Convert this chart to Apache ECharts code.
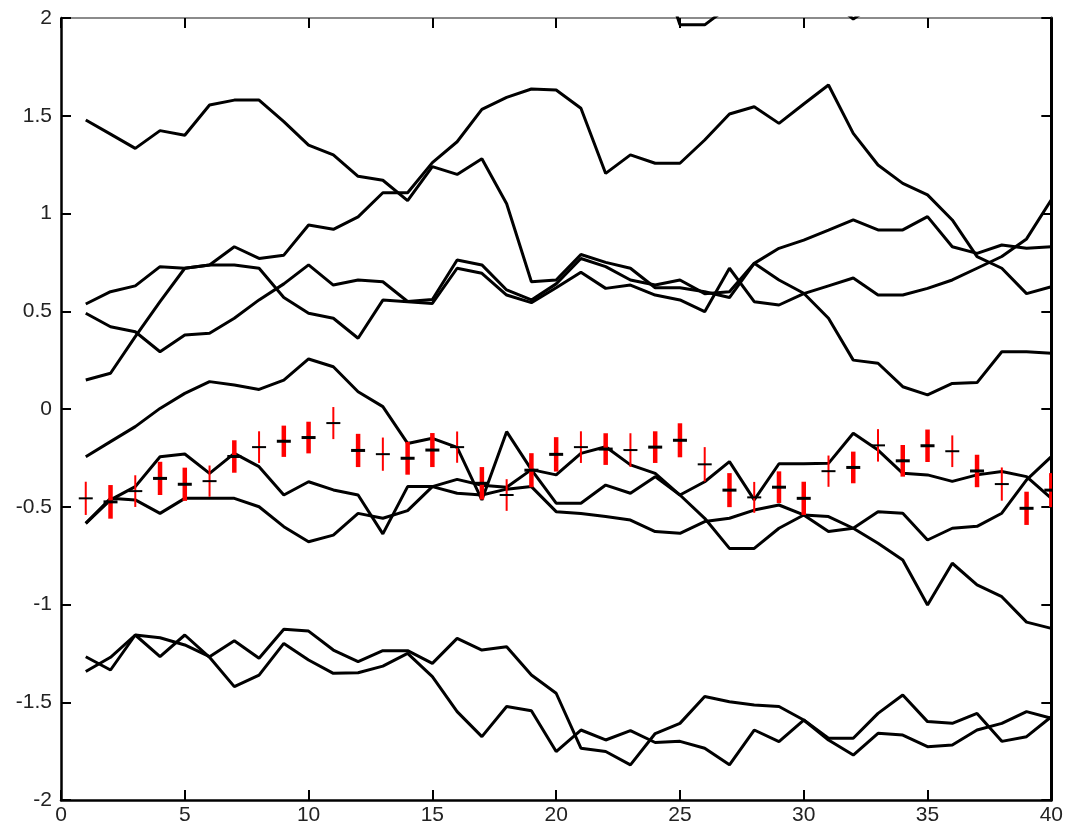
<!DOCTYPE html>
<html>
<head>
<meta charset="utf-8">
<script src="https://cdn.jsdelivr.net/npm/echarts@6/dist/echarts.min.js"></script>
<style>
  html, body { margin: 0; padding: 0; background: #fff; }
  #chart { width: 1066px; height: 832px; }
</style>
</head>
<body>
<div id="chart"></div>
<script>
// ---- data ----
const xs = [1,2,3,4,5,6,7,8,9,10,11,12,13,14,15,16,17,18,19,20,
            21,22,23,24,25,26,27,28,29,30,31,32,33,34,35,36,37,38,39,40];

const xTickLabels = ['0','5','10','15','20','25','30','35','40'];
const yTickLabels = ['-2','-1.5','-1','-0.5','0','0.5','1','1.5','2'];

const lineA = [1.478,1.406,1.333,1.424,1.40,1.555,1.58,1.58,1.47,1.35,
               1.30,1.19,1.17,1.066,1.24,1.20,1.28,1.05,0.651,0.66,
               0.79,0.75,0.72,0.62,0.62,0.60,0.57,0.745,0.822,0.864,
               0.915,0.967,0.916,0.916,0.984,0.83,0.796,0.839,0.822,0.83];
const lineB = [0.537,0.60,0.63,0.728,0.72,0.737,0.83,0.77,0.787,0.941,
               0.919,0.983,1.106,1.106,1.26,1.367,1.533,1.594,1.637,1.632,
               1.538,1.205,1.30,1.257,1.257,1.376,1.509,1.546,1.461,1.56,
               1.657,1.41,1.248,1.154,1.095,0.967,0.779,0.72,0.59,0.625];
const lineC = [0.49,0.421,0.395,0.293,0.378,0.387,0.464,0.558,0.64,0.737,
               0.634,0.66,0.651,0.55,0.56,0.762,0.737,0.609,0.558,0.64,
               0.77,0.728,0.66,0.634,0.66,0.59,0.60,0.745,0.66,0.592,
               0.464,0.25,0.234,0.114,0.072,0.131,0.135,0.293,0.293,0.285];
const lineD = [0.148,0.183,0.37,0.549,0.72,0.737,0.737,0.72,0.57,0.49,
               0.464,0.362,0.557,0.549,0.54,0.72,0.694,0.583,0.544,0.62,
               0.70,0.617,0.634,0.583,0.558,0.498,0.72,0.549,0.532,0.59,
               0.63,0.67,0.583,0.583,0.617,0.66,0.72,0.78,0.87,1.07];
const lineE = [2.45,2.5,2.4,2.35,2.42,2.5,2.55,2.5,2.4,2.45,
               2.5,2.4,2.35,2.3,2.4,2.45,2.35,2.3,2.25,2.3,
               2.35,2.4,2.3,2.35,1.965,1.965,2.06,2.2,2.3,2.25,
               2.1,1.995,2.08,2.2,2.3,2.25,2.3,2.35,2.4,2.3];
const lineF = [-0.244,-0.167,-0.09,0.003,0.08,0.14,0.123,0.10,0.148,0.256,
               0.216,0.088,0.012,-0.176,-0.15,-0.196,-0.465,-0.116,-0.31,-0.482,
               -0.482,-0.389,-0.431,-0.346,-0.44,-0.372,-0.269,-0.465,-0.28,-0.28,
               -0.278,-0.124,-0.21,-0.329,-0.337,-0.37,-0.337,-0.32,-0.346,-0.457];
const lineP = [-0.585,-0.457,-0.465,-0.534,-0.457,-0.457,-0.457,-0.50,-0.602,-0.679,
               -0.645,-0.534,-0.559,-0.52,-0.397,-0.36,-0.39,-0.40,-0.31,-0.337,
               -0.227,-0.193,-0.286,-0.329,-0.44,-0.559,-0.713,-0.713,-0.61,-0.542,
               -0.55,-0.61,-0.687,-0.772,-1.003,-0.789,-0.90,-0.96,-1.09,-1.122];
const lineR = [-0.585,-0.465,-0.397,-0.244,-0.23,-0.329,-0.227,-0.295,-0.44,-0.372,
               -0.414,-0.44,-0.639,-0.397,-0.397,-0.431,-0.44,-0.41,-0.397,-0.525,
               -0.534,-0.55,-0.568,-0.627,-0.636,-0.576,-0.559,-0.517,-0.491,-0.542,
               -0.627,-0.61,-0.525,-0.533,-0.67,-0.61,-0.60,-0.533,-0.363,-0.244];
const lineL1 = [-1.267,-1.335,-1.156,-1.267,-1.156,-1.27,-1.42,-1.361,-1.199,-1.284,
                -1.352,-1.349,-1.315,-1.25,-1.369,-1.548,-1.676,-1.522,-1.543,-1.752,
                -1.642,-1.693,-1.645,-1.706,-1.70,-1.735,-1.82,-1.642,-1.701,-1.591,
                -1.693,-1.77,-1.659,-1.668,-1.727,-1.719,-1.642,-1.608,-1.548,-1.582];
const lineL2 = [-1.343,-1.27,-1.156,-1.17,-1.207,-1.267,-1.185,-1.275,-1.127,-1.136,
                -1.233,-1.292,-1.236,-1.236,-1.301,-1.173,-1.233,-1.216,-1.361,-1.454,
                -1.735,-1.752,-1.82,-1.66,-1.608,-1.471,-1.497,-1.514,-1.522,-1.591,
                -1.684,-1.684,-1.557,-1.463,-1.599,-1.608,-1.557,-1.70,-1.676,-1.574];

const barMean = [-0.457,-0.475,-0.42,-0.355,-0.385,-0.369,-0.243,-0.195,-0.165,-0.146,
                 -0.072,-0.212,-0.231,-0.252,-0.21,-0.195,-0.38,-0.44,-0.313,-0.232,
                 -0.195,-0.205,-0.21,-0.195,-0.16,-0.283,-0.415,-0.452,-0.40,-0.457,
                 -0.318,-0.299,-0.186,-0.265,-0.188,-0.216,-0.317,-0.384,-0.508,-0.415];
const barErr = [0.085,0.086,0.081,0.085,0.085,0.08,0.083,0.081,0.08,0.081,
                0.082,0.085,0.085,0.084,0.087,0.08,0.083,0.081,0.087,0.088,
                0.081,0.081,0.086,0.081,0.087,0.088,0.087,0.079,0.081,0.085,
                0.08,0.081,0.083,0.081,0.083,0.081,0.083,0.085,0.085,0.087];

// ---- styling ----
const thickBars = [2,4,5,7,9,10,12,14,15,17,19,20,22,24,25,27,29,30,32,34,35,37,39,40];
const lines = [lineA, lineB, lineC, lineD, lineE, lineF, lineP, lineR, lineL1, lineL2];
const FONT = 'Liberation Sans';

const chart = echarts.init(document.getElementById('chart'), null, {renderer: 'canvas'});

const lineSeries = lines.map(arr => ({
  type: 'line',
  data: xs.map((x, i) => [x, arr[i]]),
  symbol: 'none',
  clip: true,
  silent: true,
  lineStyle: { color: '#000', width: 3 },
  z: 2
}));

const barSeries = {
  type: 'custom',
  clip: true,
  silent: true,
  z: 3,
  data: xs.map((x, i) => [x, barMean[i] - barErr[i], barMean[i] + barErr[i]]),
  renderItem: function (params, api) {
    const x = api.value(0);
    const p1 = api.coord([x, api.value(1)]);
    const p2 = api.coord([x, api.value(2)]);
    const thick = thickBars.indexOf(x) >= 0;
    return {
      type: 'line',
      shape: { x1: p1[0], y1: p1[1], x2: p2[0], y2: p2[1] },
      style: { stroke: '#ff0000', lineWidth: thick ? 4.5 : 2 }
    };
  }
};

const markSeries = {
  type: 'custom',
  clip: true,
  silent: true,
  z: 4,
  data: xs.map((x, i) => [x, barMean[i]]),
  renderItem: function (params, api) {
    const x = api.value(0);
    const p = api.coord([x, api.value(1)]);
    const thick = thickBars.indexOf(x) >= 0;
    return {
      type: 'line',
      shape: { x1: p[0] - 7, y1: p[1], x2: p[0] + 7, y2: p[1] },
      style: { stroke: '#000', lineWidth: thick ? 3 : 2 }
    };
  }
};

const axisCommonX = {
  type: 'value', min: 0, max: 40, interval: 5,
  splitLine: { show: false }
};
const axisCommonY = {
  type: 'value', min: -2, max: 2, interval: 0.5,
  splitLine: { show: false }
};

chart.setOption({
  animation: false,
  backgroundColor: '#fff',
  grid: { left: 61, right: 11, top: 18, bottom: 32, containLabel: false },
  xAxis: [
    Object.assign({}, axisCommonX, {
      position: 'bottom',
      axisLine: { show: true, onZero: false, lineStyle: { color: '#000', width: 2.5 } },
      axisTick: { show: true, inside: true, length: 10, lineStyle: { color: '#000', width: 2 } },
      axisLabel: {
        show: true, color: '#222', fontSize: 21, fontFamily: FONT, margin: 5,
        formatter: v => xTickLabels[Math.round(v / 5)]
      }
    }),
    Object.assign({}, axisCommonX, {
      position: 'top',
      axisLine: { show: true, onZero: false, lineStyle: { color: '#666', width: 1.5 } },
      axisTick: { show: true, inside: true, length: 10, lineStyle: { color: '#000', width: 2 } },
      axisLabel: { show: false }
    })
  ],
  yAxis: [
    Object.assign({}, axisCommonY, {
      position: 'left',
      axisLine: { show: true, onZero: false, lineStyle: { color: '#000', width: 2.5 } },
      axisTick: { show: true, inside: true, length: 10, lineStyle: { color: '#000', width: 2 } },
      axisLabel: {
        show: true, color: '#222', fontSize: 21, fontFamily: FONT, margin: 9,
        formatter: v => yTickLabels[Math.round((v + 2) / 0.5)]
      }
    }),
    Object.assign({}, axisCommonY, {
      position: 'right',
      axisLine: { show: true, onZero: false, lineStyle: { color: '#000', width: 3 } },
      axisTick: { show: true, inside: true, length: 10, lineStyle: { color: '#000', width: 2 } },
      axisLabel: { show: false }
    })
  ],
  series: lineSeries.concat([barSeries, markSeries])
});
</script>
</body>
</html>
